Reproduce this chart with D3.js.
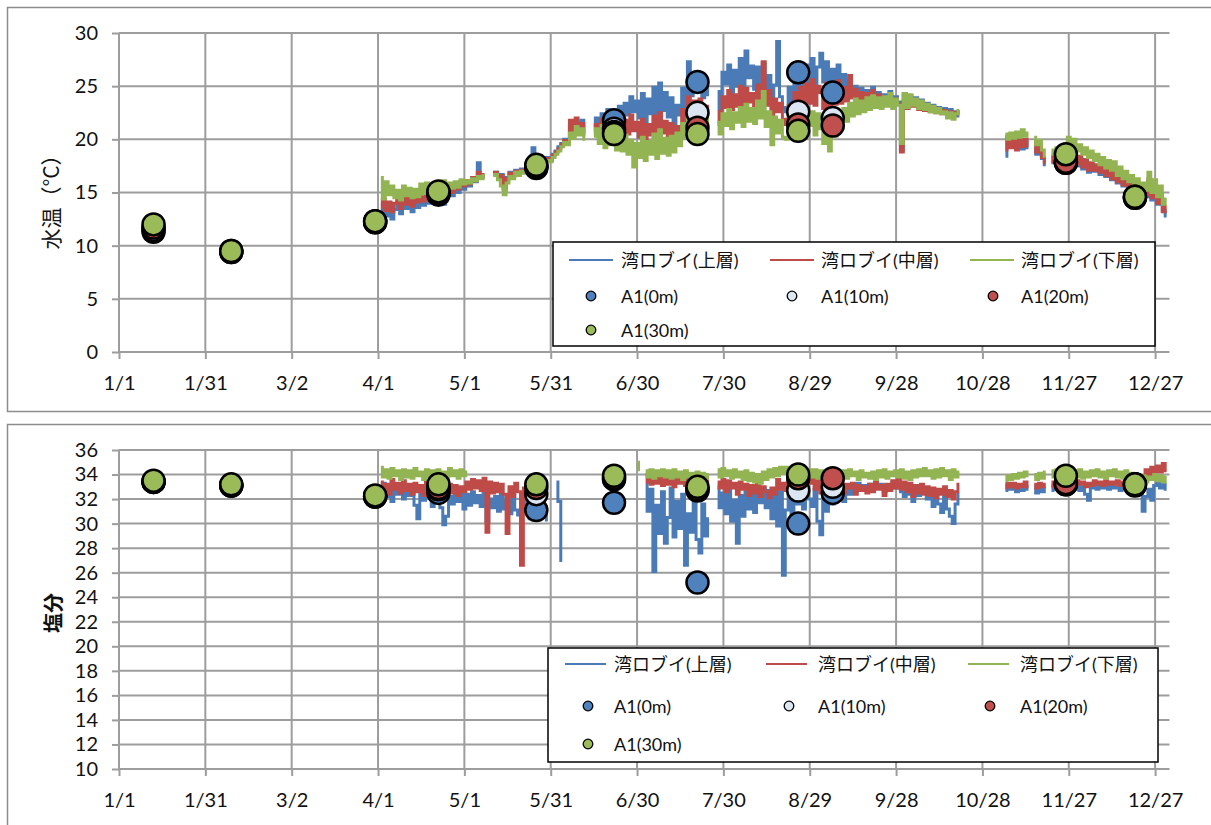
<!DOCTYPE html>
<html>
<head>
<meta charset="utf-8">
<script src="https://cdn.jsdelivr.net/npm/d3@7"></script>
<style>
  body { margin: 0; background: #fff; }
  svg { display: block; font-family: Lato, "Noto Sans CJK JP", sans-serif; }
  .tick text { fill: #111; }
</style>
</head>
<body>
<div id="chart"></div>
<script>
const _ = null;
const YEAR = 2013;

// x axis tick labels (every 30 days)
const xTickLabels = ["1/1", "1/31", "3/2", "4/1", "5/1", "5/31", "6/30", "7/30", "8/29", "9/28", "10/28", "11/27", "12/27"];
const tempTicks = [0, 5, 10, 15, 20, 25, 30];
const salTicks = [10, 12, 14, 16, 18, 20, 22, 24, 26, 28, 30, 32, 34, 36];

const buoyNames = ["湾ロブイ(上層)", "湾ロブイ(中層)", "湾ロブイ(下層)"];
const obsNames = ["A1(0m)", "A1(10m)", "A1(20m)", "A1(30m)"];
const lineColors = ["#4A7BB7", "#BE4B48", "#93B452"];
const dotColors = ["#4F81BD", "#DCE6F2", "#C0504D", "#9BBB59"];

// buoy records: one value per day from 4/2 to 12/31
const seriesStart = "4/2";

const tempUpper = [
  13.1, 13.9, 12.8, 13.6, 12.5, 13.4, 14.1, 13.0, 14.3, 13.5,
  14.0, 13.2, 14.5, 13.6, 14.2, 13.8, 14.6, 14.0, 14.8, 14.2,
  14.9, 14.3, 13.9, 14.6, 15.2, 14.7, 15.5, 15.0, 15.8, 15.3,
  15.9, 15.6, 16.2, 16.0, 17.8, 16.4, 16.6, _, _, 16.8,
  16.9, 16.5, 16.7, 15.2, 16.4, 16.9, 16.6, 17.1, 16.8, 17.2,
  17.0, 17.4, 17.2, 19.2, 17.6, 17.5, 17.8, 18.0, 18.3, 18.1,
  18.6, 18.9, 19.3, 19.6, 20.0, 19.8, 21.3, 20.4, 21.6, 20.9,
  21.8, 20.6, _, _, 21.0, 22.0, 21.2, 22.4, 21.5, 22.8,
  21.9, 22.6, 21.4, 23.1, 22.0, 23.4, 22.3, 24.0, 22.6, 23.6,
  22.0, 24.3, 21.6, 23.8, 22.4, 24.9, 21.9, 25.3, 22.7, 24.4,
  22.1, 23.9, 21.5, 23.2, 22.3, 24.8, 23.0, 27.3, 24.1, 26.2,
  24.6, 26.0, 23.9, 25.4, 24.2, _, _, 24.5, 22.8, 26.3,
  25.2, 27.0, 24.1, 26.5, 25.0, 27.6, 24.6, 28.3, 25.8, 26.9,
  24.7, 26.8, 25.3, 27.2, 24.4, 26.0, 23.6, 25.1, 29.2, 24.0,
  23.0, 22.6, 24.9, 23.3, 25.6, 24.0, 26.3, 24.6, 27.0, 25.2,
  27.6, 25.0, 26.8, 28.1, 25.4, 27.3, 24.8, 26.6, 25.1, 27.0,
  24.6, 26.1, 24.3, 25.5, 23.9, 25.0, 24.1, 24.8, 23.8, 24.6,
  23.7, 24.9, 23.9, 24.4, 23.5, 24.2, 23.6, 24.5, 23.4, 24.0,
  23.5, 19.0, 24.3, 23.1, 24.1, 23.3, 23.9, 23.0, 23.7, 22.9,
  23.4, 22.8, 23.2, 22.7, 23.0, 22.6, 22.9, 22.5, 22.8, 22.3,
  22.6, 22.2, _, _, _, _, _, _, _, _,
  _, _, _, _, _, _, _, 18.4, 20.1, 19.4,
  20.2, 19.3, 20.0, 19.1, 19.8, 19.2, _, 19.6, 18.6, 19.1,
  18.2, 17.6, _, 18.3, 17.8, 18.6, 17.9, 18.4, 17.7, 18.5,
  17.9, 18.8, 17.5, 18.2, 17.2, 17.9, 16.9, 17.6, 17.0, 17.4,
  16.7, 17.3, 16.5, 17.1, 16.2, 16.8, 15.9, 16.5, 15.6, 16.2,
  15.4, 15.9, 15.1, 15.6, 14.9, 15.3, 14.6, 16.0, 14.3, 15.2,
  13.9, 14.6, 13.3, 12.8
];

const tempMiddle = [
  13.6, 14.4, 13.3, 14.1, 13.2, 14.0, 14.6, 13.5, 14.8, 13.9,
  14.5, 13.7, 14.9, 14.1, 14.6, 14.2, 15.0, 14.4, 15.1, 14.6,
  15.2, 14.6, 14.3, 15.0, 15.5, 15.0, 15.8, 15.3, 16.0, 15.6,
  16.1, 15.8, 16.4, 16.1, 16.9, 16.5, 16.7, _, _, 16.7,
  16.9, 16.4, 16.6, 15.4, 16.3, 16.8, 16.5, 17.0, 16.7, 17.1,
  17.0, 17.3, 17.1, 18.0, 17.5, 17.4, 17.7, 17.9, 18.2, 18.0,
  18.5, 18.8, 19.1, 19.5, 19.9, 19.7, 21.8, 20.5, 22.0, 20.8,
  21.5, 20.4, _, _, 20.6, 21.4, 20.8, 21.9, 20.9, 21.7,
  20.7, 21.5, 20.6, 22.0, 20.9, 21.8, 20.5, 22.3, 20.8, 21.6,
  20.2, 21.9, 20.0, 21.4, 20.4, 22.2, 19.9, 22.5, 20.6, 21.7,
  20.1, 21.5, 19.8, 21.2, 20.5, 22.8, 21.4, 24.0, 22.2, 23.6,
  22.6, 23.8, 22.0, 23.1, 22.3, _, _, 22.6, 21.4, 24.0,
  23.0, 24.6, 22.8, 24.2, 23.1, 25.0, 22.7, 24.8, 23.5, 24.3,
  23.0, 25.1, 23.6, 27.3, 23.2, 24.6, 22.2, 23.8, 22.6, 23.4,
  21.9, 21.4, 23.2, 22.0, 24.4, 22.5, 24.9, 22.8, 25.2, 23.4,
  25.6, 23.2, 25.0, 24.4, 22.9, 25.3, 22.6, 24.7, 23.3, 25.5,
  23.4, 24.9, 23.6, 26.0, 23.9, 24.7, 23.5, 24.4, 23.6, 24.3,
  23.4, 24.6, 23.7, 24.2, 23.3, 24.0, 23.4, 24.2, 23.2, 23.8,
  23.3, 18.8, 24.1, 22.9, 23.9, 23.1, 23.7, 22.8, 23.5, 22.7,
  23.2, 22.6, 23.0, 22.5, 22.8, 22.4, 22.7, 22.3, 22.6, 22.2,
  22.5, 22.6, _, _, _, _, _, _, _, _,
  _, _, _, _, _, _, _, 19.0, 20.3, 19.2,
  20.4, 19.0, 20.1, 19.3, 20.0, 19.4, _, 19.8, 18.8, 19.3,
  18.3, 17.8, _, 18.5, 17.9, 18.8, 18.1, 18.6, 17.9, 18.7,
  18.0, 19.0, 17.7, 18.4, 17.4, 18.1, 17.1, 17.8, 17.1, 17.6,
  16.9, 17.5, 16.6, 17.3, 16.3, 17.0, 16.0, 16.7, 15.7, 16.4,
  15.6, 16.1, 15.3, 15.8, 15.0, 15.5, 14.8, 16.3, 14.5, 15.4,
  14.0, 14.9, 13.2, 13.7
];

const tempLower = [
  16.4, 14.4, 16.0, 14.8, 15.6, 14.5, 15.2, 14.3, 15.6, 14.7,
  15.4, 14.5, 15.3, 14.6, 15.8, 14.9, 15.9, 15.0, 15.6, 15.1,
  15.6, 15.0, 16.1, 15.2, 15.9, 15.4, 16.0, 15.5, 16.2, 15.8,
  16.1, 15.9, 16.3, 16.1, 16.5, 16.3, 16.6, _, _, 16.6,
  16.7, 16.2, 15.6, 14.8, 15.9, 16.5, 16.3, 16.9, 16.6, 17.0,
  16.8, 17.2, 17.0, 17.5, 17.4, 17.3, 17.6, 17.8, 18.0, 17.9,
  18.3, 18.6, 18.9, 19.3, 19.7, 19.5, 20.6, 20.1, 21.2, 20.4,
  21.0, 20.0, _, _, 20.3, 21.0, 19.6, 21.3, 19.2, 20.8,
  19.5, 20.9, 19.0, 20.6, 18.9, 20.4, 18.6, 19.9, 17.4, 19.6,
  18.3, 20.2, 18.0, 19.8, 18.6, 20.5, 18.2, 20.9, 18.7, 20.1,
  18.5, 20.3, 18.8, 20.6, 19.4, 21.5, 20.2, 22.8, 20.9, 22.4,
  21.1, 22.9, 21.0, 22.3, 21.4, _, _, 21.6, 20.5, 22.4,
  21.3, 22.8, 21.0, 22.5, 21.6, 23.0, 21.2, 23.3, 21.7, 22.9,
  21.5, 23.6, 22.0, 24.5, 21.2, 22.6, 19.5, 22.1, 20.6, 21.8,
  20.2, 20.0, 21.7, 20.4, 22.3, 20.8, 22.5, 20.6, 22.8, 21.3,
  22.6, 20.4, 22.4, 21.0, 19.6, 22.2, 18.9, 21.8, 20.3, 22.5,
  21.0, 22.9, 21.7, 23.4, 22.2, 23.8, 22.4, 23.6, 22.6, 23.9,
  22.8, 24.1, 23.0, 23.9, 22.9, 24.0, 23.1, 24.3, 22.9, 23.8,
  23.2, 19.6, 24.3, 23.0, 24.2, 23.2, 23.8, 22.9, 23.6, 22.8,
  23.3, 22.6, 23.1, 22.5, 22.9, 22.4, 22.6, 22.0, 22.5, 21.9,
  22.4, 22.7, _, _, _, _, _, _, _, _,
  _, _, _, _, _, _, _, 20.5, 20.0, 20.6,
  20.1, 20.7, 20.2, 20.9, 20.3, 20.6, _, 20.2, 19.5, 19.9,
  19.0, 18.4, _, 19.0, 18.6, 19.2, 18.8, 19.4, 18.9, 20.2,
  19.3, 20.0, 18.9, 19.5, 18.6, 19.2, 18.3, 18.9, 18.0, 18.6,
  17.6, 18.3, 17.3, 18.0, 17.1, 17.9, 16.6, 17.4, 16.3, 17.0,
  16.0, 16.6, 15.7, 16.3, 15.3, 15.9, 15.2, 16.9, 15.0, 16.2,
  14.6, 15.6, 13.9, 14.4
];

const salUpper = [
  32.6, 33.3, 32.2, 33.0, 31.8, 32.8, 32.4, 33.1, 32.0, 32.9,
  32.3, 33.0, 31.5, 30.4, 32.6, 31.9, 32.8, 32.2, 31.4, 32.7,
  32.1, 31.3, 29.9, 30.6, 32.2, 31.6, 32.7, 31.8, 32.5, 31.2,
  32.4, 31.5, 32.6, 31.7, 32.3, 31.4, 32.5, 30.2, 32.0, 31.3,
  32.2, 31.0, 32.4, 31.2, 31.9, 30.8, 32.3, 31.1, 30.7, 32.0,
  31.5, 32.2, 30.4, 31.6, 32.4, 30.9, 32.1, 31.4, 30.3, _,
  _, 33.4, 31.8, 27.0, _, _, _, _, _, _,
  _, _, _, _, _, _, _, _, _, _,
  _, _, _, _, _, _, _, _, _, _,
  _, _, 33.2, 31.0, 32.8, 26.1, 31.5, 29.2, 32.6, 28.4,
  30.5, 32.9, 28.9, 31.8, 29.6, 32.4, 26.6, 30.8, 29.3, 32.1,
  28.7, 27.6, 31.6, 29.0, 30.4, _, _, 33.0, 31.3, 32.5,
  30.8, 32.7, 30.2, 31.9, 28.4, 32.3, 30.6, 32.8, 31.2, 32.5,
  30.9, 32.6, 31.7, 32.9, 31.3, 32.7, 30.4, 32.8, 29.8, 32.6,
  25.8, 31.1, 32.7, 30.5, 32.8, 31.6, 33.0, 31.2, 32.9, 32.0,
  31.4, 32.8, 30.2, 29.1, 32.4, 31.0, 32.9, 31.6, 33.1, 32.2,
  32.9, 31.8, 33.0, 32.4, 33.2, 32.6, 33.3, 32.7, 33.1, 32.8,
  33.2, 32.7, 33.3, 32.9, 33.2, 32.6, 33.1, 32.8, 33.3, 32.9,
  33.1, 32.6, 32.2, 33.0, 32.4, 31.8, 32.9, 32.3, 33.1, 32.5,
  32.0, 32.8, 31.4, 32.6, 31.6, 30.9, 32.4, 31.2, 30.6, 30.0,
  31.6, 32.4, _, _, _, _, _, _, _, _,
  _, _, _, _, _, _, _, 32.7, 33.1, 32.8,
  33.0, 32.6, 33.1, 32.7, 33.0, 32.8, _, 32.9, 32.5, 33.0,
  32.6, 32.9, _, 32.7, 33.1, 32.8, 33.0, 32.6, 33.1, 32.9,
  33.2, 32.8, 33.1, 32.7, 33.0, 32.4, 31.9, 32.9, 33.1, 32.8,
  33.2, 32.9, 33.1, 32.8, 33.2, 32.9, 33.0, 32.7, 33.1, 32.8,
  33.0, 32.6, 32.9, 32.7, 33.0, 31.0, 32.2, 32.8, 31.9, 33.1,
  33.4, 32.9, 33.2, 32.8
];

const salMiddle = [
  33.4, 32.6, 33.2, 32.4, 33.6, 32.8, 33.3, 32.5, 33.5, 32.7,
  33.2, 32.4, 33.3, 32.6, 33.1, 32.3, 33.4, 32.5, 32.9, 32.2,
  33.0, 32.4, 32.7, 32.1, 33.2, 32.5, 33.1, 32.3, 33.0, 32.6,
  33.4, 32.8, 33.6, 32.9, 33.5, 32.7, 33.7, 29.3, 33.4, 32.5,
  33.3, 32.6, 33.2, 32.4, 29.2, 33.0, 32.2, 33.3, 32.6, 26.6,
  32.9, 33.2, 32.6, 33.0, 32.5, 32.9, 32.7, _, _, _,
  _, _, _, _, _, _, _, _, _, _,
  _, _, _, _, _, _, _, _, _, _,
  _, _, _, _, _, _, _, _, _, _,
  _, _, 33.4, 34.0, 33.2, 33.9, 33.3, 34.0, 33.1, 33.8,
  33.2, 33.9, 33.0, 33.7, 33.3, 33.8, 33.1, 33.7, 33.0, 33.6,
  33.2, 33.8, 32.9, 33.5, 33.1, _, _, 33.4, 32.9, 33.6,
  32.6, 33.5, 32.9, 33.3, 32.4, 33.4, 32.8, 33.2, 32.3, 33.1,
  32.5, 33.2, 32.2, 33.0, 32.6, 32.1, 32.9, 32.4, 33.6, 32.8,
  33.3, 32.7, 33.5, 33.0, 33.4, 32.9, 33.7, 33.2, 33.8, 33.3,
  33.9, 32.8, 33.6, 32.5, 33.4, 32.7, 33.5, 32.6, 33.3, 32.8,
  33.4, 32.5, 33.2, 32.9, 33.3, 32.4, 33.1, 32.7, 33.0, 32.5,
  33.2, 32.6, 33.4, 32.8, 33.1, 32.3, 33.2, 32.7, 33.5, 32.9,
  33.6, 32.8, 33.4, 32.6, 33.3, 32.2, 33.1, 32.5, 33.2, 32.4,
  33.0, 32.3, 32.9, 32.1, 32.8, 32.4, 33.0, 32.2, 32.7, 32.0,
  32.6, 33.2, _, _, _, _, _, _, _, _,
  _, _, _, _, _, _, _, 32.9, 33.3, 33.0,
  33.3, 32.9, 33.2, 33.0, 33.4, 33.0, _, 33.2, 32.9, 33.3,
  33.0, 33.2, _, 33.0, 33.4, 33.1, 33.3, 33.0, 33.4, 33.2,
  33.4, 33.1, 33.5, 33.2, 33.4, 33.0, 33.3, 33.1, 33.5, 33.2,
  33.4, 33.1, 33.5, 33.2, 33.4, 33.2, 33.5, 33.1, 33.4, 33.2,
  33.5, 33.2, 33.6, 33.3, 33.5, 33.9, 34.4, 33.7, 34.6, 33.9,
  34.7, 34.2, 34.9, 34.3
];

const salLower = [
  34.6, 33.8, 34.4, 33.7, 34.5, 33.9, 34.3, 33.6, 34.4, 33.8,
  34.3, 33.7, 34.5, 33.9, 34.2, 33.6, 34.4, 33.8, 34.3, 33.7,
  34.4, 33.8, 34.2, 33.6, 34.5, 33.9, 34.3, 33.7, 34.4, 33.9,
  34.2, _, _, _, _, _, _, _, _, _,
  _, _, _, _, _, _, _, _, _, _,
  _, _, _, _, _, _, _, _, _, _,
  _, _, _, _, _, _, _, _, _, _,
  _, _, _, _, _, _, _, _, _, _,
  _, _, _, _, _, _, _, _, _, 35.0,
  34.4, _, 34.3, 33.8, 34.4, 33.7, 34.3, 33.9, 34.4, 33.8,
  34.3, 33.7, 34.4, 33.8, 34.2, 33.6, 34.3, 33.8, 34.1, 33.7,
  34.2, 33.6, 34.1, 33.7, 34.0, _, _, 34.4, 33.8, 34.5,
  33.9, 34.3, 33.7, 34.4, 33.8, 34.2, 33.6, 34.3, 33.5, 34.1,
  33.4, 34.0, 33.3, 34.2, 33.6, 34.4, 33.8, 34.5, 33.9, 34.6,
  34.1, 34.6, 34.0, 34.5, 33.9, 34.4, 34.0, 34.5, 33.9, 34.4,
  33.8, 34.4, 33.7, 34.3, 33.8, 34.2, 33.6, 34.3, 33.7, 34.2,
  33.8, 34.3, 33.7, 34.4, 33.9, 34.2, 33.6, 34.3, 33.8, 34.1,
  33.7, 34.2, 33.6, 34.3, 33.8, 34.4, 33.7, 34.2, 33.9, 34.3,
  33.8, 34.4, 33.7, 34.2, 33.6, 34.3, 33.8, 34.4, 33.9, 34.5,
  33.9, 34.3, 33.7, 34.4, 33.8, 34.5, 33.9, 34.3, 33.6, 34.4,
  33.8, 34.2, _, _, _, _, _, _, _, _,
  _, _, _, _, _, _, _, 33.5, 33.9, 33.6,
  34.0, 33.7, 34.1, 33.8, 34.2, 33.9, _, 34.0, 33.6, 34.1,
  33.7, 34.2, _, 34.3, 33.8, 34.4, 33.9, 34.2, 33.8, 34.5,
  33.9, 34.3, 33.8, 34.4, 33.7, 34.2, 33.8, 34.3, 33.9, 34.4,
  33.8, 34.2, 33.7, 34.3, 33.9, 34.4, 33.8, 34.2, 33.7, 34.3,
  33.8, 34.1, 33.6, 34.0, 33.5, 33.9, 33.4, 33.8, 33.6, 34.0,
  33.5, 33.9, 33.4, 33.8
];

// A1 station observations
const obsDates = ["1/13", "2/9", "3/31", "4/22", "5/26", "6/22", "7/21", "8/25", "9/6", "11/26", "12/20"];
const temp0m  = [11.3, 9.4, 12.2, 14.8, 17.3, 21.8, 25.4, 26.3, 24.4, 17.8, 14.5];
const temp10m = [11.5, 9.4, 12.2, 14.9, 17.4, 21.0, 22.5, 22.6, 22.0, 17.8, 14.5];
const temp20m = [11.7, 9.5, 12.3, 15.0, 17.5, 20.7, 21.1, 21.4, 21.3, 17.9, 14.6];
const temp30m = [12.0, 9.5, 12.3, 15.1, 17.6, 20.5, 20.5, 20.8, _, 18.6, 14.6];
const sal0m  = [33.4, 33.1, 32.2, 32.5, 31.1, 31.7, 25.2, 30.0, 32.5, 33.2, 33.1];
const sal10m = [33.4, 33.1, 32.2, 32.8, 32.4, 33.6, 32.7, 32.7, 33.0, 33.2, 33.2];
const sal20m = [33.4, 33.1, 32.2, 32.9, 32.9, 33.7, 32.8, 33.7, 33.7, 33.3, 33.2];
const sal30m = [33.5, 33.2, 32.3, 33.2, 33.2, 33.9, 33.0, 34.0, _, 33.9, 33.2];

const parseDay = s => d3.timeParse("%m/%d/%Y")(s + "/" + YEAR);
const xTickDates = xTickLabels.map(parseDay);
const startDate = parseDay(seriesStart);

const svg = d3.select("#chart").append("svg")
    .attr("width", 1211)
    .attr("height", 825);

const x = d3.scaleTime()
    .domain([parseDay("1/1"), new Date(YEAR + 1, 0, 1)])
    .range([119, 1169.5]);

const gridColor = "#9d9d9d";

function drawPanel(p) {
    const g = svg.append("g");

    g.append("rect")
        .attr("x", 7.5).attr("y", p.frameTop + 0.5)
        .attr("width", 1215).attr("height", p.frameH)
        .attr("fill", "#fff")
        .attr("stroke", "#8c8c8c")
        .attr("stroke-width", 1.5);

    const y = d3.scaleLinear().domain(p.domain).range([p.bottom, p.top]);

    // grid lines
    g.selectAll("line.hgrid")
        .data(p.ticks)
        .join("line")
        .attr("class", "hgrid")
        .attr("x1", 119).attr("x2", 1169.5)
        .attr("y1", d => y(d)).attr("y2", d => y(d))
        .attr("stroke", gridColor).attr("stroke-width", 2);
    g.selectAll("line.vgrid")
        .data(xTickDates)
        .join("line")
        .attr("class", "vgrid")
        .attr("x1", d => x(d)).attr("x2", d => x(d))
        .attr("y1", p.top).attr("y2", p.bottom)
        .attr("stroke", gridColor).attr("stroke-width", 2);

    const yAxis = d3.axisLeft(y).tickValues(p.ticks).tickSize(7).tickPadding(14);
    const yg = g.append("g").attr("transform", "translate(119,0)").call(yAxis);
    const xAxis = d3.axisBottom(x).tickValues(xTickDates)
        .tickFormat(d3.timeFormat("%-m/%-d")).tickSize(7).tickPadding(17);
    const xg = g.append("g").attr("transform", `translate(0,${p.bottom})`).call(xAxis);
    [yg, xg].forEach(a => {
        a.select(".domain").remove();
        a.selectAll(".tick line").attr("stroke", gridColor).attr("stroke-width", 2);
        a.selectAll(".tick text").attr("font-size", 20).attr("font-family", "Lato, sans-serif");
    });

    g.append("text")
        .attr("transform", `translate(${p.titleX},${p.titleY}) rotate(-90)`)
        .attr("text-anchor", "middle")
        .attr("dominant-baseline", "central")
        .attr("font-size", p.titleSize)
        .attr("font-weight", p.titleWeight)
        .attr("font-family", "'Noto Sans CJK JP', sans-serif")
        .attr("fill", "#111")
        .text(p.title);

    // buoy lines (thick step curve gives the dense look of the hourly record)
    const line = d3.line()
        .defined(d => d.v !== null)
        .curve(d3.curveStep)
        .x(d => x(d.date))
        .y(d => y(d.v));
    p.series.forEach((vals, i) => {
        const pts = vals.map((v, k) => ({ date: d3.timeDay.offset(startDate, k), v }));
        g.append("path")
            .datum(pts)
            .attr("d", line)
            .attr("fill", "none")
            .attr("stroke", lineColors[i])
            .attr("stroke-width", 3);
    });

    // observation markers
    p.obs.forEach((vals, i) => {
        const pts = vals.map((v, k) => ({ date: parseDay(obsDates[k]), v }))
            .filter(d => d.v !== null);
        g.selectAll(null)
            .data(pts)
            .join("circle")
            .attr("cx", d => x(d.date))
            .attr("cy", d => y(d.v))
            .attr("r", 11)
            .attr("fill", dotColors[i])
            .attr("stroke", "#000")
            .attr("stroke-width", 2.5);
    });

    // legend
    const L = p.legend;
    const lg = g.append("g");
    lg.append("rect")
        .attr("x", L.x).attr("y", L.y).attr("width", L.w).attr("height", L.h)
        .attr("fill", "#fff").attr("stroke", "#000").attr("stroke-width", 1.5);
    buoyNames.forEach((name, i) => {
        lg.append("line")
            .attr("x1", L.lineX[i]).attr("x2", L.lineX[i] + L.lineLen)
            .attr("y1", L.rows[0]).attr("y2", L.rows[0])
            .attr("stroke", lineColors[i]).attr("stroke-width", 2);
        lg.append("text")
            .attr("x", L.textX[i]).attr("y", L.rows[0])
            .attr("dominant-baseline", "central")
            .attr("font-size", 18).attr("fill", "#111")
            .text(name);
    });
    obsNames.forEach((name, i) => {
        const col = i % 3, row = 1 + Math.floor(i / 3);
        lg.append("circle")
            .attr("cx", L.dotX[col]).attr("cy", L.rows[row]).attr("r", 4.8)
            .attr("fill", dotColors[i]).attr("stroke", "#000").attr("stroke-width", 1.3);
        lg.append("text")
            .attr("x", L.textX[col]).attr("y", L.rows[row])
            .attr("dominant-baseline", "central")
            .attr("font-size", 18).attr("fill", "#111")
            .text(name);
    });
}

drawPanel({
    frameTop: 7, frameH: 404,
    top: 33, bottom: 352,
    domain: [0, 30], ticks: tempTicks,
    title: "水温（°C）", titleX: 50, titleY: 197, titleSize: 21, titleWeight: 400,
    series: [tempUpper, tempMiddle, tempLower],
    obs: [temp0m, temp10m, temp20m, temp30m],
    legend: { x: 553, y: 242, w: 602, h: 104,
        lineX: [569, 770, 970], lineLen: 44, textX: [621, 821, 1021],
        dotX: [591, 792, 993], rows: [260, 296, 330] }
});

drawPanel({
    frameTop: 424, frameH: 420,
    top: 450, bottom: 769,
    domain: [10, 36], ticks: salTicks,
    title: "塩分", titleX: 52, titleY: 613, titleSize: 20, titleWeight: 700,
    series: [salUpper, salMiddle, salLower],
    obs: [sal0m, sal10m, sal20m, sal30m],
    legend: { x: 548, y: 648, w: 610, h: 114,
        lineX: [565, 766, 968], lineLen: 41, textX: [614, 818, 1020],
        dotX: [591, 792, 993].map(v => v - 3), rows: [664, 706, 744] }
});
</script>
</body>
</html>
